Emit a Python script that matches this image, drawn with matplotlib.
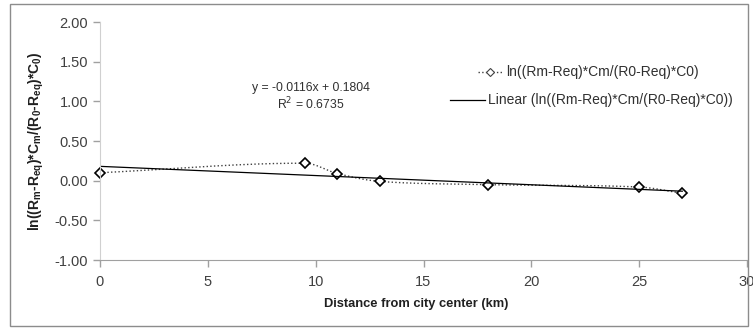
import matplotlib
matplotlib.use("Agg")
import matplotlib.pyplot as plt
import numpy as np
from matplotlib.patches import Rectangle

plt.rcParams['font.family'] = ['Liberation Sans', 'DejaVu Sans']

# Data
distance = [0, 9.5, 11, 13, 18, 25, 27]
ratio_ln = [0.10, 0.22, 0.09, -0.01, -0.05, -0.08, -0.16]
slope, intercept = -0.0116, 0.1804
r2 = 0.6735
xticks = [0, 5, 10, 15, 20, 25, 30]
yticks = [-1.0, -0.5, 0.0, 0.5, 1.0, 1.5, 2.0]
series_label = 'ln((Rm-Req)*Cm/(R0-Req)*C0)'
trend_label = 'Linear (ln((Rm-Req)*Cm/(R0-Req)*C0))'


def smooth_bezier(xs, ys, yscale=3.7, n=40):
    """Excel-like smoothed line: cubic Bezier with chord-length scaled tangents."""
    P = np.column_stack([np.asarray(xs, float), np.asarray(ys, float) * yscale])
    m = len(P)
    d = np.linalg.norm(np.diff(P, axis=0), axis=1)
    out = []
    for i in range(m - 1):
        p1, p2 = P[i], P[i + 1]
        if i > 0:
            t1 = (P[i + 1] - P[i - 1]) * d[i] / (d[i - 1] + d[i])
        else:
            t1 = (P[i + 1] - P[i])
        if i + 2 < m:
            t2 = (P[i + 2] - P[i]) * d[i] / (d[i] + d[i + 1])
        else:
            t2 = (P[i + 1] - P[i])
        c1 = p1 + t1 / 3
        c2 = p2 - t2 / 3
        t = np.linspace(0, 1, n)[:, None]
        seg = ((1 - t) ** 3) * p1 + 3 * ((1 - t) ** 2) * t * c1 + 3 * (1 - t) * t ** 2 * c2 + t ** 3 * p2
        out.append(seg)
    out = np.vstack(out)
    return out[:, 0], out[:, 1] / yscale


fig = plt.figure(figsize=(7.53, 3.29), dpi=100)
fig.patches.append(Rectangle((10 / 753, 3 / 329), 738 / 753, 322 / 329, transform=fig.transFigure,
                             fill=False, edgecolor='#8c8c8c', linewidth=1.0))
ax = fig.add_axes([100 / 753, 1 - 260 / 329, 647 / 753, 238 / 329])

sx, sy = smooth_bezier(distance, ratio_ln)
ax.plot(sx, sy, linestyle=':', color='#404040', linewidth=1.0)
ax.plot(distance, ratio_ln, linestyle='none', marker='D', markersize=5, markerfacecolor='white',
        markeredgecolor='black', markeredgewidth=1.2, clip_on=False)
tx = np.array([min(distance), max(distance)])
ax.plot(tx, slope * tx + intercept, color='black', linewidth=0.9)

ax.set_xlim(0, 30)
ax.set_ylim(-1.0, 2.0)
ax.set_xticks(xticks)
ax.set_yticks(yticks)
ax.set_xticklabels([str(v) for v in xticks])
ax.set_yticklabels([f'{v:.2f}' for v in yticks])
for s in ['top', 'right']:
    ax.spines[s].set_visible(False)
ax.spines['left'].set_color('#d0d0d0')
ax.spines['bottom'].set_color('#a0a0a0')
ax.tick_params(axis='both', colors='#a0a0a0', labelcolor='#404040', labelsize=10.5, length=5, width=1)
ax.tick_params(axis='x', pad=6)
ax.set_xlabel('Distance from city center (km)', fontsize=9.3, fontweight='bold', color='#202020')
ax.xaxis.set_label_coords((416 - 100) / 647, -(298 - 260) / 238)
ax.set_ylabel(r'ln((R$_\mathregular{m}$-R$_\mathregular{eq}$)*C$_\mathregular{m}$/(R$_\mathregular{0}$-R$_\mathregular{eq}$)*C$_\mathregular{0}$)',
              fontsize=10, fontweight='bold', color='#202020', labelpad=6)

fig.text(311 / 753, 1 - 88 / 329, f'y = {slope}x + {intercept}', ha='center', va='center', fontsize=8.8, color='#303030')
fig.text(311 / 753, 1 - 104 / 329, f'R$^2$ = {r2}', ha='center', va='center', fontsize=8.8, color='#303030')

# legend
ly1, ly2 = 1 - 72 / 329, 1 - 100 / 329
fig.lines.append(plt.Line2D([478 / 753, 502 / 753], [ly1, ly1], transform=fig.transFigure,
                            linestyle=':', color='#404040', linewidth=1.0))
fig.lines.append(plt.Line2D([490 / 753], [ly1], transform=fig.transFigure, marker='D', markersize=4.5,
                            markerfacecolor='white', markeredgecolor='#404040', markeredgewidth=0.8))
fig.lines.append(plt.Line2D([450 / 753, 485 / 753], [ly2, ly2], transform=fig.transFigure,
                            color='black', linewidth=0.9))
fig.text(506 / 753, ly1, series_label, ha='left', va='center', fontsize=10, color='#303030')
fig.text(488 / 753, ly2, trend_label, ha='left', va='center', fontsize=10, color='#303030')

fig.savefig('out.png', dpi=100)
